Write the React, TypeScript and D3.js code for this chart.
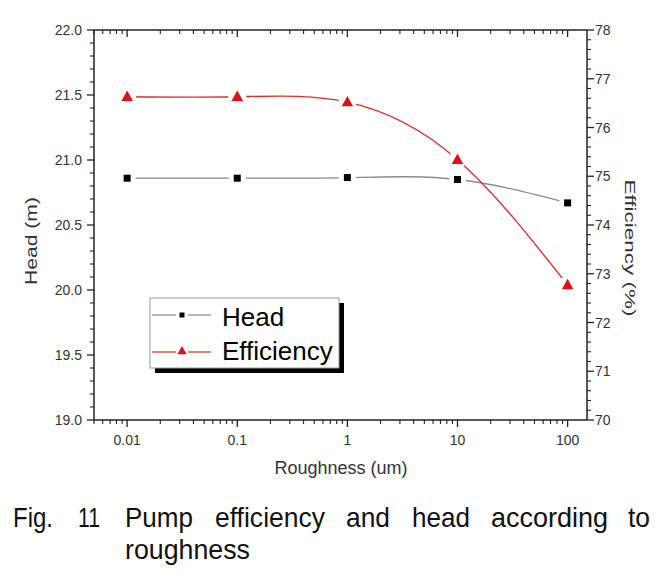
import React from "react";
import * as d3 from "d3";

const roughness = [0.01, 0.1, 1, 10, 100];
const headValues = [20.86, 20.86, 20.865, 20.85, 20.67];
const efficiencyValues = [76.63, 76.63, 76.52, 75.34, 72.77];
const xTickLabels = ["0.01", "0.1", "1", "10", "100"];
const headTicks = [19.0, 19.5, 20.0, 20.5, 21.0, 21.5, 22.0];
const effTicks = [70, 71, 72, 73, 74, 75, 76, 77, 78];
const seriesNames = ["Head", "Efficiency"];
const captionLine1 = ["Fig.", "11", "Pump", "efficiency", "and", "head", "according", "to"];
const captionLine2 = ["roughness"];

const W = 665, H = 583;
const L = 94, R = 587, T = 30, B = 420;

export default function App() {
  const x = d3.scaleLog().domain([0.005, 150]).range([L, R]);
  const yH = d3.scaleLinear().domain([19, 22]).range([B, T]);
  const yE = d3.scaleLinear().domain([70, 78]).range([B, T]);

  const minorX: number[] = [];
  for (let e = -3; e <= 2; e++) {
    for (let m = 2; m <= 9; m++) {
      const v = m * Math.pow(10, e);
      if (v >= 0.005 - 1e-9 && v <= 150) minorX.push(v);
    }
  }
  const minorH = d3.range(190, 221, 1).map((v) => v / 10).filter((v) => Math.abs(v * 2 - Math.round(v * 2)) > 1e-6);
  const minorE = d3.range(350, 391, 1).map((v) => v / 5).filter((v) => Math.abs(v - Math.round(v)) > 1e-6);

  const line = (ys: number[], sc: any) =>
    d3.line<number>().x((_, i) => x(roughness[i])).y((d) => sc(d)).curve(d3.curveNatural)(ys) || "";

  const tickColor = "#222";
  const labelColor = "#333";
  const headColor = "#000";
  const headLine = "#8a8a8a";
  const effColor = "#e0101a";
  const effLine = "#d83030";

  const tri = (cx: number, cy: number, s: number) =>
    `M${cx},${cy - s * 0.62}L${cx + s * 0.58},${cy + s * 0.42}L${cx - s * 0.58},${cy + s * 0.42}Z`;

  const cap1X = [13, 78, 125, 215, 346, 412, 491, 628];
  const cap1W = [40, 22, 68, 110, 44, 58, 117, 22];
  const cap2X = [125];
  const cap2W = [125];

  const legX = 150, legY = 298, legW = 189, legH = 70;

  return (
    <svg width={W} height={H} style={{ position: "absolute", left: 0, top: 0, background: "#fff" }}
      fontFamily="'Liberation Sans', Arial, sans-serif">
      <rect x={0} y={0} width={W} height={H} fill="#fff" />

      <path d={line(headValues, yH)} fill="none" stroke={headLine} strokeWidth={1.3} />
      <path d={line(efficiencyValues, yE)} fill="none" stroke={effLine} strokeWidth={1.4} />

      {roughness.map((r, i) => (
        <circle key={"hh" + i} cx={x(r)} cy={yH(headValues[i])} r={8.5} fill="#fff" />
      ))}
      {roughness.map((r, i) => (
        <circle key={"he" + i} cx={x(r)} cy={yE(efficiencyValues[i])} r={9} fill="#fff" />
      ))}

      {roughness.map((r, i) => (
        <rect key={"mh" + i} x={x(r) - 3.5} y={yH(headValues[i]) - 3.5} width={7} height={7} fill={headColor} />
      ))}
      {roughness.map((r, i) => (
        <path key={"me" + i} d={tri(x(r), yE(efficiencyValues[i]), 10)} fill={effColor} />
      ))}

      <line x1={L} x2={R} y1={B} y2={B} stroke={tickColor} strokeWidth={1.5} />
      <line x1={L} x2={R} y1={T} y2={T} stroke={tickColor} strokeWidth={1.5} />
      <line x1={L} x2={L} y1={T} y2={B} stroke={tickColor} strokeWidth={1.5} />
      <line x1={R} x2={R} y1={T} y2={B} stroke={tickColor} strokeWidth={1.5} />

      {roughness.map((r, i) => (
        <g key={"xt" + i}>
          <line x1={x(r)} x2={x(r)} y1={B} y2={B + 7} stroke={tickColor} strokeWidth={1.3} />
          <line x1={x(r)} x2={x(r)} y1={T} y2={T + 7} stroke={tickColor} strokeWidth={1.3} />
          <text x={x(r)} y={445} textAnchor="middle" fontSize={14} fill={labelColor}>{xTickLabels[i]}</text>
        </g>
      ))}
      {minorX.map((v, i) => (
        <g key={"xm" + i}>
          <line x1={x(v)} x2={x(v)} y1={B} y2={B + 4} stroke={tickColor} strokeWidth={1.1} />
          <line x1={x(v)} x2={x(v)} y1={T} y2={T + 4} stroke={tickColor} strokeWidth={1.1} />
        </g>
      ))}

      {headTicks.map((v, i) => (
        <g key={"lt" + i}>
          <line x1={L - 7} x2={L} y1={yH(v)} y2={yH(v)} stroke={tickColor} strokeWidth={1.3} />
          <text x={L - 12} y={yH(v) + 5} textAnchor="end" fontSize={14} fill={labelColor}>{v.toFixed(1)}</text>
        </g>
      ))}
      {minorH.map((v, i) => (
        <line key={"lm" + i} x1={L - 4} x2={L} y1={yH(v)} y2={yH(v)} stroke={tickColor} strokeWidth={1.1} />
      ))}

      {effTicks.map((v, i) => (
        <g key={"rt" + i}>
          <line x1={R} x2={R + 7} y1={yE(v)} y2={yE(v)} stroke={tickColor} strokeWidth={1.3} />
          <text x={R + 8} y={yE(v) + 5} textAnchor="start" fontSize={14} fill={labelColor}>{v}</text>
        </g>
      ))}
      {minorE.map((v, i) => (
        <line key={"rm" + i} x1={R} x2={R + 4} y1={yE(v)} y2={yE(v)} stroke={tickColor} strokeWidth={1.1} />
      ))}

      <text x={341} y={474} textAnchor="middle" fontSize={18} fill={labelColor}>Roughness (um)</text>
      <text transform="translate(37,241) rotate(-90)" textAnchor="middle" fontSize={16} fill={labelColor}
        textLength={88} lengthAdjust="spacingAndGlyphs">Head (m)</text>
      <text transform="translate(625,248) rotate(90)" textAnchor="middle" fontSize={15} fill={labelColor}
        textLength={137} lengthAdjust="spacingAndGlyphs">Efficiency (%)</text>

      <rect x={legX + 5} y={legY + 5} width={legW} height={legH} fill="#000" />
      <rect x={legX} y={legY} width={legW} height={legH} fill="#fff" stroke="#999" strokeWidth={1} />
      <line x1={152} x2={176} y1={315} y2={315} stroke={headLine} strokeWidth={1.2} />
      <line x1={188} x2={211} y1={315} y2={315} stroke={headLine} strokeWidth={1.2} />
      <rect x={179.5} y={312.5} width={5} height={5} fill={headColor} />
      <text x={222} y={326} fontSize={26} fill="#000">{seriesNames[0]}</text>
      <line x1={152} x2={176} y1={352} y2={352} stroke={effLine} strokeWidth={1.2} />
      <line x1={188} x2={211} y1={352} y2={352} stroke={effLine} strokeWidth={1.2} />
      <path d={tri(182, 351, 8)} fill={effColor} />
      <text x={222} y={360} fontSize={26} fill="#000">{seriesNames[1]}</text>

      <g fontFamily="'Liberation Sans', Arial, sans-serif" fontSize={28} fill="#111">
        {captionLine1.map((w, i) => (
          <text key={"c1" + i} x={cap1X[i]} y={527} textLength={cap1W[i]} lengthAdjust="spacingAndGlyphs">{w}</text>
        ))}
        {captionLine2.map((w, i) => (
          <text key={"c2" + i} x={cap2X[i]} y={559} textLength={cap2W[i]} lengthAdjust="spacingAndGlyphs">{w}</text>
        ))}
      </g>
    </svg>
  );
}
